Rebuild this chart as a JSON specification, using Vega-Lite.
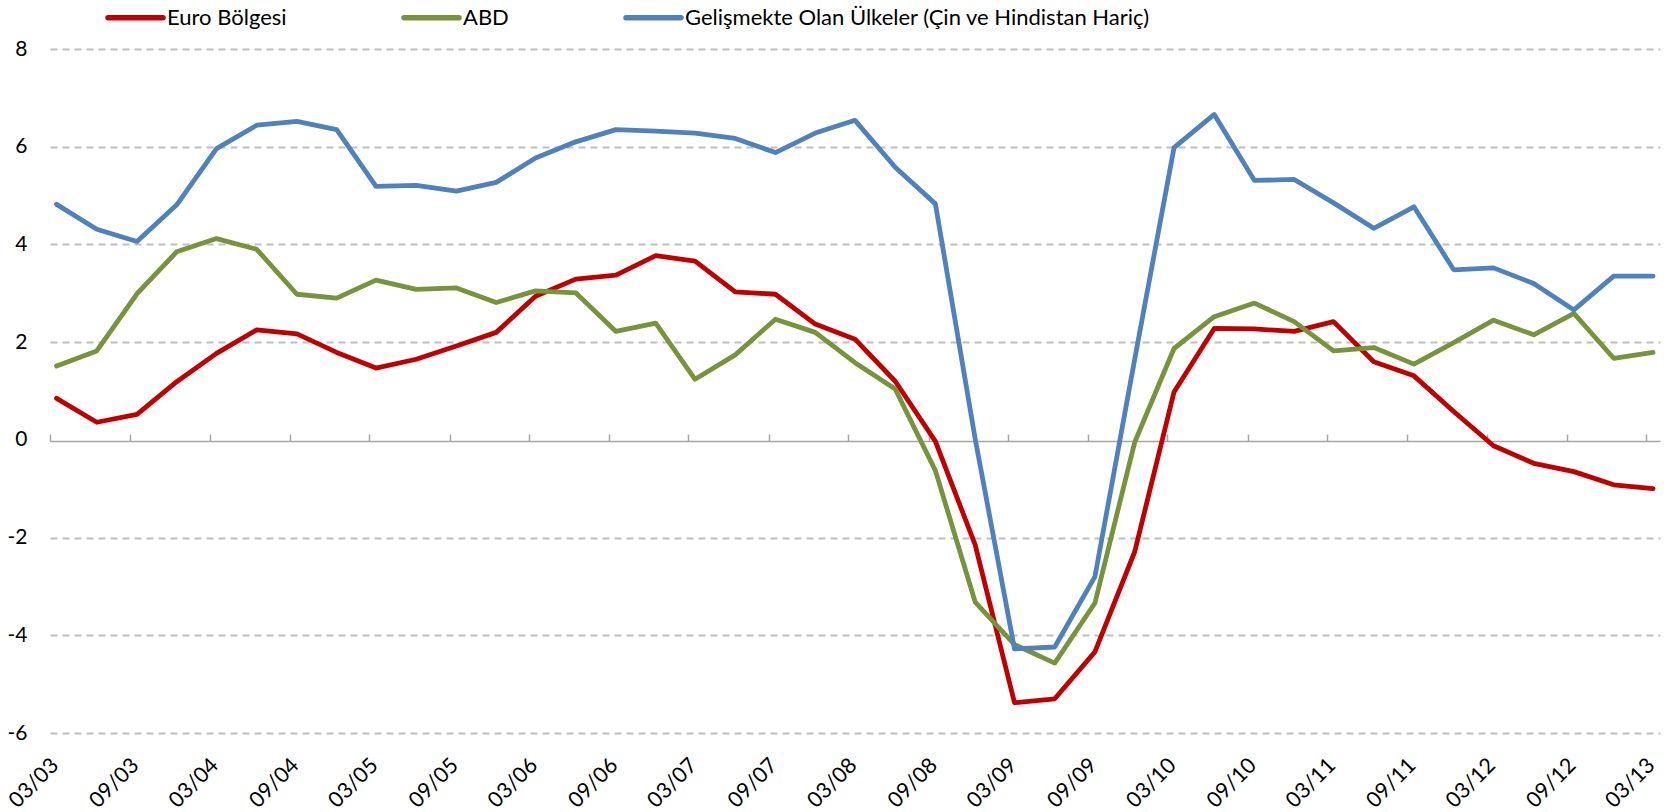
{
  "$schema": "https://vega.github.io/schema/vega-lite/v6.json",
  "width": 1610,
  "height": 684,
  "autosize": {"type": "none"},
  "padding": {"left": 50, "top": 49, "right": 11, "bottom": 79},
  "background": "white",
  "config": {"view": {"stroke": null}, "font": "Lato"},
  "data": {"values": [
    {"t":"2003-03-16","s":"Euro Bölgesi","v":0.85},{"t":"2003-06-16","s":"Euro Bölgesi","v":0.36},{"t":"2003-09-16","s":"Euro Bölgesi","v":0.52},{"t":"2003-12-16","s":"Euro Bölgesi","v":1.19},
    {"t":"2004-03-16","s":"Euro Bölgesi","v":1.77},{"t":"2004-06-16","s":"Euro Bölgesi","v":2.25},{"t":"2004-09-16","s":"Euro Bölgesi","v":2.17},{"t":"2004-12-16","s":"Euro Bölgesi","v":1.79},
    {"t":"2005-03-16","s":"Euro Bölgesi","v":1.47},{"t":"2005-06-16","s":"Euro Bölgesi","v":1.65},{"t":"2005-09-16","s":"Euro Bölgesi","v":1.92},{"t":"2005-12-16","s":"Euro Bölgesi","v":2.20},
    {"t":"2006-03-16","s":"Euro Bölgesi","v":2.94},{"t":"2006-06-16","s":"Euro Bölgesi","v":3.29},{"t":"2006-09-16","s":"Euro Bölgesi","v":3.37},{"t":"2006-12-16","s":"Euro Bölgesi","v":3.77},
    {"t":"2007-03-16","s":"Euro Bölgesi","v":3.66},{"t":"2007-06-16","s":"Euro Bölgesi","v":3.03},{"t":"2007-09-16","s":"Euro Bölgesi","v":2.98},{"t":"2007-12-16","s":"Euro Bölgesi","v":2.37},
    {"t":"2008-03-16","s":"Euro Bölgesi","v":2.06},{"t":"2008-06-16","s":"Euro Bölgesi","v":1.20},{"t":"2008-09-16","s":"Euro Bölgesi","v":-0.03},{"t":"2008-12-16","s":"Euro Bölgesi","v":-2.15},
    {"t":"2009-03-16","s":"Euro Bölgesi","v":-5.38},{"t":"2009-06-16","s":"Euro Bölgesi","v":-5.30},{"t":"2009-09-16","s":"Euro Bölgesi","v":-4.34},{"t":"2009-12-16","s":"Euro Bölgesi","v":-2.29},
    {"t":"2010-03-16","s":"Euro Bölgesi","v":0.98},{"t":"2010-06-16","s":"Euro Bölgesi","v":2.28},{"t":"2010-09-16","s":"Euro Bölgesi","v":2.27},{"t":"2010-12-16","s":"Euro Bölgesi","v":2.22},
    {"t":"2011-03-16","s":"Euro Bölgesi","v":2.42},{"t":"2011-06-16","s":"Euro Bölgesi","v":1.60},{"t":"2011-09-16","s":"Euro Bölgesi","v":1.31},{"t":"2011-12-16","s":"Euro Bölgesi","v":0.58},
    {"t":"2012-03-16","s":"Euro Bölgesi","v":-0.12},{"t":"2012-06-16","s":"Euro Bölgesi","v":-0.48},{"t":"2012-09-16","s":"Euro Bölgesi","v":-0.65},{"t":"2012-12-16","s":"Euro Bölgesi","v":-0.92},
    {"t":"2013-03-16","s":"Euro Bölgesi","v":-1.00},
    {"t":"2003-03-16","s":"ABD","v":1.51},{"t":"2003-06-16","s":"ABD","v":1.82},{"t":"2003-09-16","s":"ABD","v":2.99},{"t":"2003-12-16","s":"ABD","v":3.85},
    {"t":"2004-03-16","s":"ABD","v":4.12},{"t":"2004-06-16","s":"ABD","v":3.90},{"t":"2004-09-16","s":"ABD","v":2.98},{"t":"2004-12-16","s":"ABD","v":2.90},
    {"t":"2005-03-16","s":"ABD","v":3.27},{"t":"2005-06-16","s":"ABD","v":3.08},{"t":"2005-09-16","s":"ABD","v":3.11},{"t":"2005-12-16","s":"ABD","v":2.81},
    {"t":"2006-03-16","s":"ABD","v":3.05},{"t":"2006-06-16","s":"ABD","v":3.01},{"t":"2006-09-16","s":"ABD","v":2.22},{"t":"2006-12-16","s":"ABD","v":2.39},
    {"t":"2007-03-16","s":"ABD","v":1.24},{"t":"2007-06-16","s":"ABD","v":1.74},{"t":"2007-09-16","s":"ABD","v":2.47},{"t":"2007-12-16","s":"ABD","v":2.20},
    {"t":"2008-03-16","s":"ABD","v":1.58},{"t":"2008-06-16","s":"ABD","v":1.04},{"t":"2008-09-16","s":"ABD","v":-0.63},{"t":"2008-12-16","s":"ABD","v":-3.32},
    {"t":"2009-03-16","s":"ABD","v":-4.19},{"t":"2009-06-16","s":"ABD","v":-4.57},{"t":"2009-09-16","s":"ABD","v":-3.34},{"t":"2009-12-16","s":"ABD","v":-0.05},
    {"t":"2010-03-16","s":"ABD","v":1.87},{"t":"2010-06-16","s":"ABD","v":2.52},{"t":"2010-09-16","s":"ABD","v":2.80},{"t":"2010-12-16","s":"ABD","v":2.42},
    {"t":"2011-03-16","s":"ABD","v":1.82},{"t":"2011-06-16","s":"ABD","v":1.89},{"t":"2011-09-16","s":"ABD","v":1.55},{"t":"2011-12-16","s":"ABD","v":1.99},
    {"t":"2012-03-16","s":"ABD","v":2.45},{"t":"2012-06-16","s":"ABD","v":2.15},{"t":"2012-09-16","s":"ABD","v":2.59},{"t":"2012-12-16","s":"ABD","v":1.67},
    {"t":"2013-03-16","s":"ABD","v":1.79},
    {"t":"2003-03-16","s":"Gelişmekte Olan Ülkeler (Çin ve Hindistan Hariç)","v":4.82},{"t":"2003-06-16","s":"Gelişmekte Olan Ülkeler (Çin ve Hindistan Hariç)","v":4.31},{"t":"2003-09-16","s":"Gelişmekte Olan Ülkeler (Çin ve Hindistan Hariç)","v":4.06},{"t":"2003-12-16","s":"Gelişmekte Olan Ülkeler (Çin ve Hindistan Hariç)","v":4.81},
    {"t":"2004-03-16","s":"Gelişmekte Olan Ülkeler (Çin ve Hindistan Hariç)","v":5.96},{"t":"2004-06-16","s":"Gelişmekte Olan Ülkeler (Çin ve Hindistan Hariç)","v":6.44},{"t":"2004-09-16","s":"Gelişmekte Olan Ülkeler (Çin ve Hindistan Hariç)","v":6.52},{"t":"2004-12-16","s":"Gelişmekte Olan Ülkeler (Çin ve Hindistan Hariç)","v":6.35},
    {"t":"2005-03-16","s":"Gelişmekte Olan Ülkeler (Çin ve Hindistan Hariç)","v":5.19},{"t":"2005-06-16","s":"Gelişmekte Olan Ülkeler (Çin ve Hindistan Hariç)","v":5.21},{"t":"2005-09-16","s":"Gelişmekte Olan Ülkeler (Çin ve Hindistan Hariç)","v":5.09},{"t":"2005-12-16","s":"Gelişmekte Olan Ülkeler (Çin ve Hindistan Hariç)","v":5.27},
    {"t":"2006-03-16","s":"Gelişmekte Olan Ülkeler (Çin ve Hindistan Hariç)","v":5.77},{"t":"2006-06-16","s":"Gelişmekte Olan Ülkeler (Çin ve Hindistan Hariç)","v":6.10},{"t":"2006-09-16","s":"Gelişmekte Olan Ülkeler (Çin ve Hindistan Hariç)","v":6.35},{"t":"2006-12-16","s":"Gelişmekte Olan Ülkeler (Çin ve Hindistan Hariç)","v":6.32},
    {"t":"2007-03-16","s":"Gelişmekte Olan Ülkeler (Çin ve Hindistan Hariç)","v":6.28},{"t":"2007-06-16","s":"Gelişmekte Olan Ülkeler (Çin ve Hindistan Hariç)","v":6.17},{"t":"2007-09-16","s":"Gelişmekte Olan Ülkeler (Çin ve Hindistan Hariç)","v":5.88},{"t":"2007-12-16","s":"Gelişmekte Olan Ülkeler (Çin ve Hindistan Hariç)","v":6.28},
    {"t":"2008-03-16","s":"Gelişmekte Olan Ülkeler (Çin ve Hindistan Hariç)","v":6.54},{"t":"2008-06-16","s":"Gelişmekte Olan Ülkeler (Çin ve Hindistan Hariç)","v":5.58},{"t":"2008-09-16","s":"Gelişmekte Olan Ülkeler (Çin ve Hindistan Hariç)","v":4.83},{"t":"2008-12-16","s":"Gelişmekte Olan Ülkeler (Çin ve Hindistan Hariç)","v":0.02},
    {"t":"2009-03-16","s":"Gelişmekte Olan Ülkeler (Çin ve Hindistan Hariç)","v":-4.28},{"t":"2009-06-16","s":"Gelişmekte Olan Ülkeler (Çin ve Hindistan Hariç)","v":-4.24},{"t":"2009-09-16","s":"Gelişmekte Olan Ülkeler (Çin ve Hindistan Hariç)","v":-2.80},{"t":"2009-12-16","s":"Gelişmekte Olan Ülkeler (Çin ve Hindistan Hariç)","v":1.65},
    {"t":"2010-03-16","s":"Gelişmekte Olan Ülkeler (Çin ve Hindistan Hariç)","v":5.98},{"t":"2010-06-16","s":"Gelişmekte Olan Ülkeler (Çin ve Hindistan Hariç)","v":6.66},{"t":"2010-09-16","s":"Gelişmekte Olan Ülkeler (Çin ve Hindistan Hariç)","v":5.31},{"t":"2010-12-16","s":"Gelişmekte Olan Ülkeler (Çin ve Hindistan Hariç)","v":5.33},
    {"t":"2011-03-16","s":"Gelişmekte Olan Ülkeler (Çin ve Hindistan Hariç)","v":4.85},{"t":"2011-06-16","s":"Gelişmekte Olan Ülkeler (Çin ve Hindistan Hariç)","v":4.33},{"t":"2011-09-16","s":"Gelişmekte Olan Ülkeler (Çin ve Hindistan Hariç)","v":4.77},{"t":"2011-12-16","s":"Gelişmekte Olan Ülkeler (Çin ve Hindistan Hariç)","v":3.48},
    {"t":"2012-03-16","s":"Gelişmekte Olan Ülkeler (Çin ve Hindistan Hariç)","v":3.52},{"t":"2012-06-16","s":"Gelişmekte Olan Ülkeler (Çin ve Hindistan Hariç)","v":3.20},{"t":"2012-09-16","s":"Gelişmekte Olan Ülkeler (Çin ve Hindistan Hariç)","v":2.66},{"t":"2012-12-16","s":"Gelişmekte Olan Ülkeler (Çin ve Hindistan Hariç)","v":3.35},
    {"t":"2013-03-16","s":"Gelişmekte Olan Ülkeler (Çin ve Hindistan Hariç)","v":3.35}
  ]},
  "layer": [
    {
      "mark": {"type": "line", "strokeWidth": 4.8, "strokeCap": "round", "strokeJoin": "round"},
      "encoding": {
        "x": {
          "field": "t", "type": "temporal",
          "scale": {"type": "utc", "domain": [{"year": 2003, "month": 3, "date": 1, "utc": true}, {"year": 2013, "month": 4, "date": 1, "utc": true}]},
          "axis": {
            "title": null, "format": "%m/%y",
            "values": [
              {"year":2003,"month":3,"date":1,"utc":true},{"year":2003,"month":9,"date":1,"utc":true},
              {"year":2004,"month":3,"date":1,"utc":true},{"year":2004,"month":9,"date":1,"utc":true},
              {"year":2005,"month":3,"date":1,"utc":true},{"year":2005,"month":9,"date":1,"utc":true},
              {"year":2006,"month":3,"date":1,"utc":true},{"year":2006,"month":9,"date":1,"utc":true},
              {"year":2007,"month":3,"date":1,"utc":true},{"year":2007,"month":9,"date":1,"utc":true},
              {"year":2008,"month":3,"date":1,"utc":true},{"year":2008,"month":9,"date":1,"utc":true},
              {"year":2009,"month":3,"date":1,"utc":true},{"year":2009,"month":9,"date":1,"utc":true},
              {"year":2010,"month":3,"date":1,"utc":true},{"year":2010,"month":9,"date":1,"utc":true},
              {"year":2011,"month":3,"date":1,"utc":true},{"year":2011,"month":9,"date":1,"utc":true},
              {"year":2012,"month":3,"date":1,"utc":true},{"year":2012,"month":9,"date":1,"utc":true},
              {"year":2013,"month":3,"date":1,"utc":true}
            ],
            "labelAngle": -45, "labelAlign": "right", "labelBaseline": "middle",
            "labelPadding": 29, "labelOffset": 5, "ticks": false, "tickSize": 0, "domain": false, "grid": false,
            "labelFont": "Lato", "labelFontSize": 21.5, "labelColor": "#000000",
            "labelOverlap": false, "labelBound": false, "labelFlush": false
          }
        },
        "y": {
          "field": "v", "type": "quantitative",
          "scale": {"domain": [-6, 8], "nice": false, "zero": false},
          "axis": {
            "title": null, "values": [-6, -4, -2, 0, 2, 4, 6, 8],
            "labelExpr": "toString(datum.value)",
            "domain": false, "ticks": false, "tickSize": 0, "labelPadding": 23,
            "labelFont": "Lato", "labelFontSize": 21, "labelColor": "#000000",
            "grid": true, "gridColor": "#BFBFBF", "gridDash": [7, 5], "gridWidth": 1.8,
            "gridOpacity": {"condition": {"test": "datum.value === 0", "value": 0}, "value": 1}
          }
        },
        "color": {
          "field": "s", "type": "nominal",
          "scale": {
            "domain": ["Euro Bölgesi", "ABD", "Gelişmekte Olan Ülkeler (Çin ve Hindistan Hariç)"],
            "range": ["#C00000", "#77933C", "#4F81BD"]
          },
          "legend": {
            "orient": "none", "legendX": 55, "legendY": -62, "direction": "horizontal",
            "title": null, "symbolType": "stroke", "symbolSize": 3025, "symbolStrokeWidth": 5.5,
            "labelFont": "Lato", "labelFontSize": 22, "labelColor": "#000000", "labelOffset": 1,
            "columnPadding": 106, "padding": 0, "labelLimit": 0,
            "encode": {"symbols": {"update": {"strokeCap": {"value": "round"}}}}
          }
        }
      }
    },
    {
      "mark": {"type": "rule", "strokeOpacity": 0},
      "encoding": {
        "x": {
          "aggregate": "min", "field": "t", "type": "temporal",
          "axis": {
            "title": null, "labels": false, "grid": false,
            "values": [
              {"year":2003,"month":3,"date":1,"utc":true},{"year":2003,"month":9,"date":1,"utc":true},
              {"year":2004,"month":3,"date":1,"utc":true},{"year":2004,"month":9,"date":1,"utc":true},
              {"year":2005,"month":3,"date":1,"utc":true},{"year":2005,"month":9,"date":1,"utc":true},
              {"year":2006,"month":3,"date":1,"utc":true},{"year":2006,"month":9,"date":1,"utc":true},
              {"year":2007,"month":3,"date":1,"utc":true},{"year":2007,"month":9,"date":1,"utc":true},
              {"year":2008,"month":3,"date":1,"utc":true},{"year":2008,"month":9,"date":1,"utc":true},
              {"year":2009,"month":3,"date":1,"utc":true},{"year":2009,"month":9,"date":1,"utc":true},
              {"year":2010,"month":3,"date":1,"utc":true},{"year":2010,"month":9,"date":1,"utc":true},
              {"year":2011,"month":3,"date":1,"utc":true},{"year":2011,"month":9,"date":1,"utc":true},
              {"year":2012,"month":3,"date":1,"utc":true},{"year":2012,"month":9,"date":1,"utc":true},
              {"year":2013,"month":3,"date":1,"utc":true}
            ],
            "domain": true, "domainColor": "#A6A6A6", "domainWidth": 1.5,
            "ticks": true, "tickColor": "#A6A6A6", "tickWidth": 1.5, "tickSize": 7,
            "offset": -392, "zindex": 0
          }
        },
        "x2": {"aggregate": "max", "field": "t"},
        "y": {"datum": 0}
      }
    }
  ],
  "resolve": {"axis": {"x": "independent"}}
}
